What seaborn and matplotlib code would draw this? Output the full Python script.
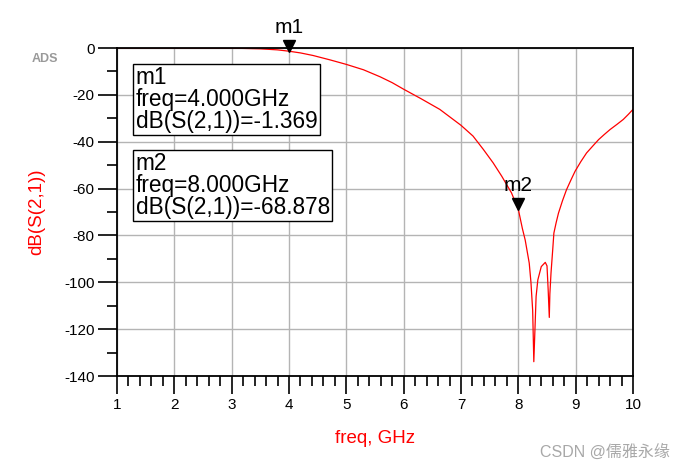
import numpy as np
import pandas as pd
import matplotlib
matplotlib.use("Agg")
import matplotlib.pyplot as plt
import matplotlib.transforms as mtransforms
import seaborn as sns

# ---- data ----
freq_ghz = [1.0, 2.0, 3.0, 3.5, 3.8, 4.0, 4.2, 4.42, 4.72, 5.0, 5.3, 5.59, 5.8, 6.0,
            6.3, 6.63, 7.0, 7.21, 7.39, 7.56, 7.71, 7.88, 8.0, 8.07, 8.12, 8.19,
            8.22, 8.25, 8.27, 8.29, 8.31, 8.34, 8.4, 8.47, 8.5, 8.52, 8.54, 8.55,
            8.57, 8.6, 8.62, 8.66, 8.70, 8.77, 8.84, 8.92, 8.99, 9.09, 9.19, 9.30,
            9.40, 9.50, 9.60, 9.72, 9.83, 9.92, 10.0]
s21_db = [0.0, 0.0, -0.05, -0.35, -0.8, -1.369, -2.1, -3.2, -5.1, -7.0, -9.3, -12.3,
          -14.8, -17.6, -21.6, -26.2, -33.0, -37.6, -43.3, -49.0, -54.7, -61.8,
          -68.878, -77.0, -82.0, -91.8, -100.0, -112.0, -133.9, -120.0, -106.0,
          -99.0, -93.3, -91.5, -93.0, -103.0, -115.0, -105.0, -96.0, -86.0, -79.0,
          -74.5, -70.5, -65.2, -60.5, -56.2, -52.6, -48.5, -44.8, -41.8, -39.1,
          -36.9, -34.8, -32.6, -30.5, -28.3, -26.2]
marker_names = ["m1", "m2"]
marker_freq = [4.0, 8.0]
marker_val = [-1.369, -68.878]
x_ticks = [1, 2, 3, 4, 5, 6, 7, 8, 9, 10]
y_ticks = [0, -20, -40, -60, -80, -100, -120, -140]

df = pd.DataFrame({"freq": freq_ghz, "db": s21_db})

sns.set_style("white")
plt.rcParams["font.family"] = ["Liberation Sans", "Noto Sans CJK SC", "DejaVu Sans"]
plt.rcParams["axes.unicode_minus"] = False

fig = plt.figure(figsize=(6.86, 4.69), dpi=100)
ax = fig.add_axes([117/686, 1-376/469, (633-117)/686, (376-48)/469])

sns.lineplot(data=df, x="freq", y="db", ax=ax, color="red", linewidth=0.9)

ax.set_xlim(1, 10)
ax.set_ylim(-140, 0)
ax.set_xticks(x_ticks)
ax.set_yticks(y_ticks)
ax.set_xticks(np.arange(1, 10.01, 0.2), minor=True)
ax.set_yticks(np.arange(-140, 0.01, 10), minor=True)
ax.grid(True, which="major", color="#b4b4b4", linewidth=1.0)
ax.grid(False, which="minor")
ax.set_axisbelow(True)
for s in ax.spines.values():
    s.set_visible(True)
    s.set_color("black")
    s.set_linewidth(1.3)
ax.tick_params(axis="x", which="both", bottom=True, top=False)
ax.tick_params(axis="y", which="both", left=True, right=False)
ax.tick_params(axis="both", which="major", direction="out", length=13, width=1.2,
               color="black", labelsize=11, labelcolor="black")
ax.tick_params(axis="both", which="minor", direction="out", length=7, width=1.2,
               color="black")
ax.tick_params(axis="x", which="major", pad=3)
ax.tick_params(axis="y", which="major", length=14, pad=2)

ax.set_xlabel("freq, GHz", color="red", fontsize=13.5)
ax.set_ylabel("dB(S(2,1))", color="red", fontsize=13.5)
ax.xaxis.set_label_coords(0.5, -0.165)
ax.yaxis.set_label_coords(-0.14, 0.5)

# markers
off = mtransforms.offset_copy(ax.transData, fig=fig, x=0, y=5, units="dots")
for name, fx, fv in zip(marker_names, marker_freq, marker_val):
    ax.plot([fx], [fv], marker="v", color="black", markersize=8, transform=off,
            clip_on=False, linestyle="none")
    ax.annotate(name, (fx, fv), xytext=(0, 10), textcoords="offset points",
                ha="center", va="bottom", fontsize=15, color="black",
                annotation_clip=False)

# readout boxes
box_tops = [0.944, 0.682]
for name, fx, fv, yt in zip(marker_names, marker_freq, marker_val, box_tops):
    txt = f"{name}\nfreq={fx:.3f}GHz\ndB(S(2,1))={fv:.3f}"
    ax.text(0.036, yt, txt, transform=ax.transAxes, ha="left", va="top",
            fontsize=16.3, linespacing=0.93, color="black", zorder=5,
            bbox=dict(boxstyle="square,pad=0.1", facecolor="white",
                      edgecolor="black", linewidth=1.0))

fig.text(32/686, 1-59/469, "ADS", fontsize=9, color="#999999", ha="left",
         va="center", fontweight="bold")
fig.text(670/686, 1-452/469, "CSDN @儒雅永缘", fontsize=11.5, color="#a8a8a8",
         ha="right", va="center")

fig.savefig("out.png", dpi=100)
